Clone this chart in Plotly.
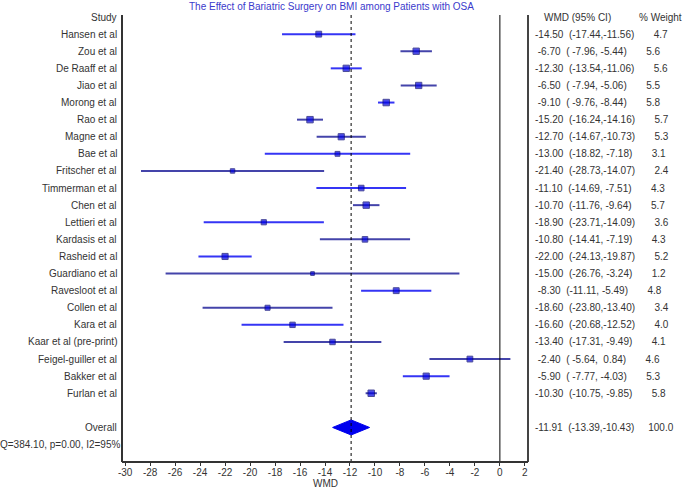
import plotly.graph_objects as go

studies = ["Hansen et al", "Zou et al", "De Raaff et al", "Jiao et al", "Morong et al",
           "Rao et al", "Magne et al", "Bae et al", "Fritscher et al", "Timmerman et al",
           "Chen et al", "Lettieri et al", "Kardasis et al", "Rasheid et al", "Guardiano et al",
           "Ravesloot et al", "Collen et al", "Kara et al", "Kaar et al (pre-print)",
           "Feigel-guiller et al", "Bakker et al", "Furlan et al"]
wmd = [-14.50, -6.70, -12.30, -6.50, -9.10, -15.20, -12.70, -13.00, -21.40, -11.10, -10.70,
       -18.90, -10.80, -22.00, -15.00, -8.30, -18.60, -16.60, -13.40, -2.40, -5.90, -10.30]
ci_low = [-17.44, -7.96, -13.54, -7.94, -9.76, -16.24, -14.67, -18.82, -28.73, -14.69, -11.76,
          -23.71, -14.41, -24.13, -26.76, -11.11, -23.80, -20.68, -17.31, -5.64, -7.77, -10.75]
ci_high = [-11.56, -5.44, -11.06, -5.06, -8.44, -14.16, -10.73, -7.18, -14.07, -7.51, -9.64,
           -14.09, -7.19, -19.87, -3.24, -5.49, -13.40, -12.52, -9.49, 0.84, -4.03, -9.85]
weights = [4.7, 5.6, 5.6, 5.5, 5.8, 5.7, 5.3, 3.1, 2.4, 4.3, 5.7, 3.6, 4.3, 5.2, 1.2, 4.8,
           3.4, 4.0, 4.1, 4.6, 5.3, 5.8]
overall_wmd = -11.91
overall_low = -13.39
overall_high = -10.43
overall_weight = 100.0
heterogeneity = "Q=384.10, p=0.00, I2=95%"
x_ticks = list(range(-30, 3, 2))
x_tick_labels = [str(t) for t in x_ticks]
x_title = "WMD"
title = "The Effect of Bariatric Surgery on BMI among Patients with OSA"

# style groups for CI lines (alternating shades as in the original)
line_group = ["B", "D", "B", "D", "B", "D", "D", "B", "D", "B", "D", "B", "D", "B", "D",
              "B", "D", "B", "D", "D", "B", "D"]
BRIGHT = "#3535f5"
DARK = "#4444aa"
TXT = "#333333"
FONT = "Arial, Liberation Sans, sans-serif"

rows = list(range(1, len(studies) + 1))
overall_row = len(studies) + 2
q_row = overall_row + 1

fig = go.Figure()

for grp, col in (("B", BRIGHT), ("D", DARK)):
    xs, ys = [], []
    for i, g in enumerate(line_group):
        if g == grp:
            xs += [ci_low[i], ci_high[i], None]
            ys += [rows[i], rows[i], None]
    fig.add_trace(go.Scatter(x=xs, y=ys, mode="lines", line=dict(color=col, width=2),
                             hoverinfo="skip", showlegend=False))

fig.add_trace(go.Scatter(
    x=wmd, y=rows, mode="markers",
    marker=dict(symbol="square", color="#0000e0", size=[3 + 0.6 * w for w in weights],
                line=dict(color="#000070", width=1)),
    showlegend=False))

# overall diamond
h = 0.44
fig.add_trace(go.Scatter(
    x=[overall_low, overall_wmd, overall_high, overall_wmd, overall_low],
    y=[overall_row, overall_row - h, overall_row, overall_row + h, overall_row],
    mode="lines", fill="toself", fillcolor="#0000ee", line=dict(color="#0000ee", width=1),
    showlegend=False))

y_top = -0.12
y_bot = 26.02

shapes = [
    dict(type="line", xref="x", yref="paper", x0=0, x1=0, y0=0, y1=1,
         line=dict(color="black", width=1)),
    dict(type="line", xref="x", yref="paper", x0=overall_wmd, x1=overall_wmd, y0=0, y1=1,
         line=dict(color="black", width=1, dash="dot")),
    dict(type="line", xref="paper", yref="paper", x0=0, x1=0, y0=0, y1=1,
         line=dict(color="#333", width=2)),
    dict(type="line", xref="paper", yref="paper", x0=1, x1=1, y0=0, y1=1,
         line=dict(color="#444", width=2)),
    dict(type="line", xref="paper", yref="paper", x0=0, x1=1, y0=0, y1=0,
         line=dict(color="#333", width=2)),
]

def nb(s):
    return s.replace(" ", "\u00a0")

def row_text(m, l, hh, w):
    return nb(f"{m:6.2f}  ({l:6.2f},{hh:6.2f})     {w:5.1f}")

ann = []
fnt = dict(family=FONT, size=10, color=TXT)
ann.append(dict(xref="paper", yref="y", x=0, y=0, xshift=-3, xanchor="right", text="Study",
                showarrow=False, font=fnt))
for r, s in zip(rows, studies):
    ann.append(dict(xref="paper", yref="y", x=0, y=r, xshift=-3, xanchor="right", text=s,
                    showarrow=False, font=fnt))
ann.append(dict(xref="paper", yref="y", x=0, y=overall_row, xshift=-3, xanchor="right",
                text="Overall", showarrow=False, font=fnt))
ann.append(dict(xref="paper", yref="y", x=0, y=q_row, xshift=0, xanchor="right",
                text=heterogeneity, showarrow=False, font=fnt))

ann.append(dict(xref="paper", yref="y", x=1.034, y=0, xanchor="left", text="WMD (95% CI)",
                showarrow=False, font=fnt))
ann.append(dict(xref="paper", yref="y", x=1.268, y=0, xanchor="left", text="% Weight",
                showarrow=False, font=fnt))
for r, m, l, hh, w in zip(rows, wmd, ci_low, ci_high, weights):
    ann.append(dict(xref="paper", yref="y", x=1.012, y=r, xanchor="left",
                    text=row_text(m, l, hh, w), showarrow=False, font=fnt))
ann.append(dict(xref="paper", yref="y", x=1.012, y=overall_row, xanchor="left",
                text=row_text(overall_wmd, overall_low, overall_high, overall_weight),
                showarrow=False, font=fnt))

ann.append(dict(xref="paper", yref="paper", x=0.517, y=1.02, xanchor="center",
                yanchor="middle", text=title, showarrow=False,
                font=dict(family=FONT, size=10, color="#3a3acc")))
ann.append(dict(xref="paper", yref="paper", x=0.5, y=-0.047, xanchor="center",
                yanchor="middle", text=x_title, showarrow=False, font=fnt))

fig.update_layout(
    width=685, height=489,
    margin=dict(l=122, r=157, t=15, b=27),
    paper_bgcolor="white", plot_bgcolor="white",
    xaxis=dict(range=[-30.25, 2.25], tickvals=x_ticks, ticktext=x_tick_labels,
               ticks="outside", ticklen=3, tickcolor="#333", tickfont=fnt,
               ticklabelstandoff=-2, showgrid=False, zeroline=False,
               showline=False, automargin=False),
    yaxis=dict(range=[y_bot, y_top], showticklabels=False, showgrid=False,
               zeroline=False, showline=False, ticks="", automargin=False),
    shapes=shapes, annotations=ann,
)

fig.write_html("out.html", config={"displayModeBar": False},
               post_script="document.body.style.margin='0';")
